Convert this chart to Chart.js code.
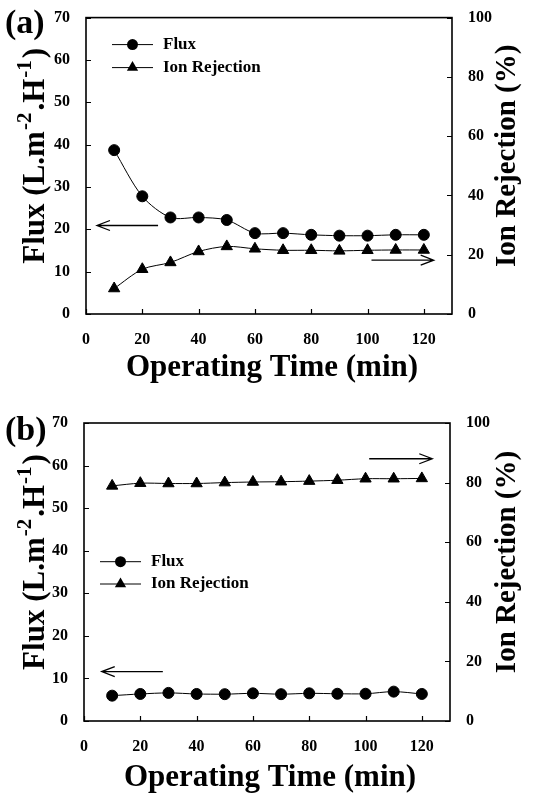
<!DOCTYPE html>
<html>
<head>
<meta charset="utf-8">
<script src="https://cdn.jsdelivr.net/npm/chart.js@4.4.1/dist/chart.umd.min.js"></script>
<style>
  html, body { margin: 0; padding: 0; background: #fff; }
  .panel { position: relative; width: 534px; }
  #panelA { height: 400px; }
  #panelB { height: 395px; }
</style>
</head>
<body>
<div class="panel" id="panelA"><canvas id="chartA"></canvas></div>
<div class="panel" id="panelB"><canvas id="chartB"></canvas></div>
<script>
// Data
const times = [10, 20, 30, 40, 50, 60, 70, 80, 90, 100, 110, 120];
const fluxA = [38.7, 27.8, 22.8, 22.8, 22.2, 19.1, 19.1, 18.7, 18.5, 18.5, 18.7, 18.7];
const rejectionA = [8.6, 15.1, 17.4, 21.1, 22.8, 22.0, 21.5, 21.5, 21.3, 21.5, 21.6, 21.6];
const fluxB = [5.95, 6.35, 6.6, 6.35, 6.3, 6.5, 6.3, 6.5, 6.4, 6.4, 6.9, 6.35];
const rejectionB = [78.9, 79.8, 79.7, 79.7, 80.0, 80.2, 80.3, 80.5, 80.8, 81.3, 81.3, 81.4];

// Tick labels
const xTicks = [0, 20, 40, 60, 80, 100, 120];
const fluxTicks = [0, 10, 20, 30, 40, 50, 60, 70];
const rejectionTicks = [0, 20, 40, 60, 80, 100];

const SERIF = "'Liberation Serif', 'DejaVu Serif', serif";

// frame, inner ticks, titles, legend and arrows
const decorPlugin = {
    id: 'decor',
    afterDraw(chart, args, opts) {
        const { ctx, chartArea: a, scales } = chart;
        ctx.save();
        ctx.strokeStyle = '#000';
        ctx.fillStyle = '#000';

        // box around plot
        ctx.lineWidth = 1.6;
        ctx.strokeRect(a.left, a.top, a.right - a.left, a.bottom - a.top);

        // inward ticks
        ctx.lineWidth = 1.2;
        ctx.beginPath();
        scales.x.ticks.forEach(t => {
            const px = Math.round(scales.x.getPixelForValue(t.value)) + 0.5;
            ctx.moveTo(px, a.bottom);
            ctx.lineTo(px, a.bottom - 5);
        });
        scales.y.ticks.forEach(t => {
            const py = Math.round(scales.y.getPixelForValue(t.value)) + 0.5;
            ctx.moveTo(a.left, py);
            ctx.lineTo(a.left + 5, py);
        });
        scales.y2.ticks.forEach(t => {
            const py = Math.round(scales.y2.getPixelForValue(t.value)) + 0.5;
            ctx.moveTo(a.right, py);
            ctx.lineTo(a.right - 5, py);
        });
        ctx.stroke();

        // panel letter
        ctx.font = 'bold 34px ' + SERIF;
        ctx.textAlign = 'left';
        ctx.textBaseline = 'middle';
        ctx.fillText(opts.letter, 5, opts.letterY);

        // x title
        ctx.font = 'bold 31px ' + SERIF;
        ctx.textAlign = 'center';
        ctx.fillText('Operating Time (min)', (a.left + a.right) / 2 + 3, a.bottom + opts.xTitleOffset);

        // left title with superscripts
        const midY = (a.top + a.bottom) / 2 - 10;
        ctx.save();
        ctx.translate(33, midY);
        ctx.rotate(-Math.PI / 2);
        const parts = [
            { t: 'Flux (L.m', sup: false },
            { t: '-2', sup: true },
            { t: '.H', sup: false },
            { t: '-1', sup: true },
            { t: ')', sup: false }
        ];
        const bigFont = 'bold 31px ' + SERIF;
        const supFont = 'bold 21px ' + SERIF;
        let total = 0;
        parts.forEach(p => {
            ctx.font = p.sup ? supFont : bigFont;
            p.w = ctx.measureText(p.t).width + (p.sup ? 3 : 0);
            total += p.w;
        });
        let cx = -total / 2;
        ctx.textAlign = 'left';
        ctx.textBaseline = 'alphabetic';
        parts.forEach(p => {
            ctx.font = p.sup ? supFont : bigFont;
            ctx.fillText(p.t, cx + (p.sup ? 1 : 0), p.sup ? -2 : 11);
            cx += p.w;
        });
        ctx.restore();

        // right title
        ctx.save();
        ctx.translate(508, midY);
        ctx.rotate(-Math.PI / 2);
        ctx.font = 'bold 29px ' + SERIF;
        ctx.textAlign = 'center';
        ctx.textBaseline = 'middle';
        ctx.fillText('Ion Rejection (%)', 0, 0);
        ctx.restore();

        // legend
        const lx = a.left + opts.legend.dx;
        let ly = a.top + opts.legend.dy;
        chart.data.datasets.forEach(ds => {
            ctx.lineWidth = 1;
            ctx.beginPath();
            ctx.moveTo(lx, ly);
            ctx.lineTo(lx + 41, ly);
            ctx.stroke();
            drawMarker(ctx, ds.pointStyle, lx + 20.5, ly, ds.pointRadius);
            ctx.font = 'bold 17px ' + SERIF;
            ctx.textAlign = 'left';
            ctx.textBaseline = 'middle';
            ctx.fillText(ds.label, lx + 51, ly);
            ly += opts.legend.gap;
        });

        // arrows, given in data units of x and the flux axis
        ctx.lineWidth = 1.3;
        opts.arrows.forEach(ar => {
            const x1 = scales.x.getPixelForValue(ar.from);
            const x2 = scales.x.getPixelForValue(ar.to);
            const y = scales.y.getPixelForValue(ar.at);
            const dir = x2 > x1 ? 1 : -1;
            ctx.beginPath();
            ctx.moveTo(x1, y);
            ctx.lineTo(x2, y);
            ctx.moveTo(x2 - dir * 13, y - 5);
            ctx.lineTo(x2, y);
            ctx.lineTo(x2 - dir * 13, y + 5);
            ctx.stroke();
        });
        ctx.restore();
    }
};

function drawMarker(ctx, style, x, y, r) {
    ctx.beginPath();
    if (style === 'triangle') {
        ctx.moveTo(x, y - r);
        ctx.lineTo(x + r * 0.866, y + r / 2);
        ctx.lineTo(x - r * 0.866, y + r / 2);
        ctx.closePath();
    } else {
        ctx.arc(x, y, r, 0, Math.PI * 2);
    }
    ctx.fill();
}

function makeChart(canvasId, flux, rejection, layout) {
    const tickFont = { family: SERIF, size: 16, weight: 'bold' };
    return new Chart(document.getElementById(canvasId), {
        type: 'line',
        data: {
            datasets: [{
                label: 'Flux',
                data: times.map((t, i) => ({ x: t, y: flux[i] })),
                yAxisID: 'y',
                borderColor: '#000',
                backgroundColor: '#000',
                borderWidth: 1,
                pointStyle: 'circle',
                pointRadius: 5.5,
                tension: 0.3
            }, {
                label: 'Ion Rejection',
                data: times.map((t, i) => ({ x: t, y: rejection[i] })),
                yAxisID: 'y2',
                borderColor: '#000',
                backgroundColor: '#000',
                borderWidth: 1,
                pointStyle: 'triangle',
                pointRadius: 6.5,
                tension: 0.3
            }]
        },
        options: {
            responsive: true,
            maintainAspectRatio: false,
            animation: false,
            events: [],
            layout: { padding: { top: layout.top, left: 0, right: 0, bottom: 0 } },
            scales: {
                x: {
                    type: 'linear',
                    min: 0,
                    max: 130,
                    afterBuildTicks: s => { s.ticks = xTicks.map(v => ({ value: v })); },
                    afterFit: s => { s.height = layout.xHeight; },
                    grid: { display: false },
                    border: { display: false },
                    ticks: { color: '#000', font: tickFont, padding: 8, maxRotation: 0 }
                },
                y: {
                    position: 'left',
                    min: 0,
                    max: 70,
                    afterBuildTicks: s => { s.ticks = fluxTicks.map(v => ({ value: v })); },
                    afterFit: s => { s.width = layout.left; },
                    grid: { display: false },
                    border: { display: false },
                    ticks: { color: '#000', font: tickFont, padding: 8 }
                },
                y2: {
                    position: 'right',
                    min: 0,
                    max: 100,
                    afterBuildTicks: s => { s.ticks = rejectionTicks.map(v => ({ value: v })); },
                    afterFit: s => { s.width = layout.right; },
                    grid: { display: false },
                    border: { display: false },
                    ticks: { color: '#000', font: tickFont, padding: 8 }
                }
            },
            plugins: {
                legend: { display: false },
                tooltip: { enabled: false },
                decor: layout.decor
            }
        },
        plugins: [decorPlugin]
    });
}

makeChart('chartA', fluxA, rejectionA, {
    top: 16, left: 86, right: 82, xHeight: 86,
    decor: {
        letter: '(a)', letterY: 24, xTitleOffset: 54,
        legend: { dx: 26, dy: 27, gap: 23 },
        arrows: [
            { from: 25.6, to: 3.9, at: 20.9 },
            { from: 101.4, to: 123.5, at: 12.7 }
        ]
    }
});

makeChart('chartB', fluxB, rejectionB, {
    top: 23, left: 84, right: 84, xHeight: 74,
    decor: {
        letter: '(b)', letterY: 31, xTitleOffset: 57,
        legend: { dx: 16, dy: 138.7, gap: 22.3 },
        arrows: [
            { from: 101.3, to: 123.7, at: 61.6 },
            { from: 28, to: 6.3, at: 11.6 }
        ]
    }
});
</script>
</body>
</html>
